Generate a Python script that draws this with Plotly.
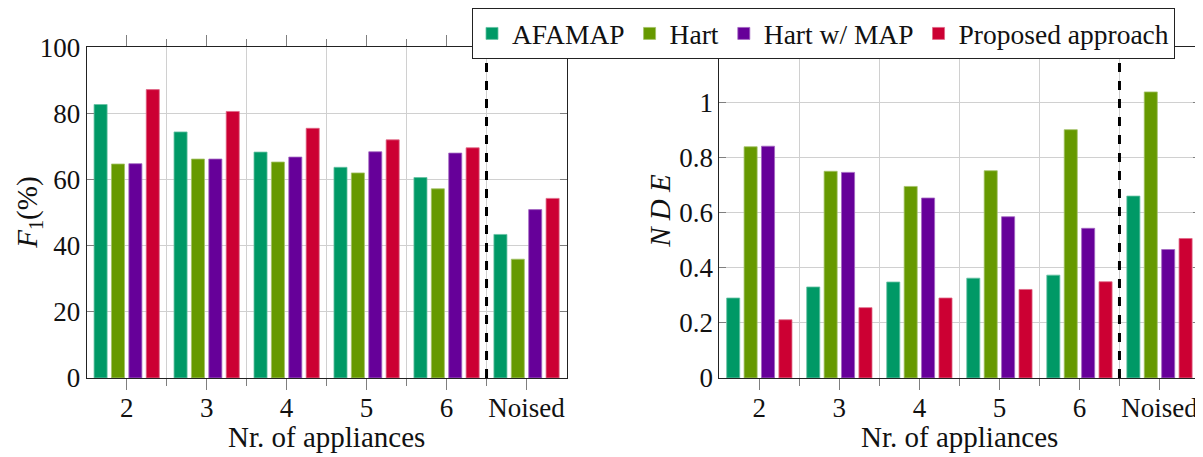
import plotly.graph_objects as go

categories = ["2", "3", "4", "5", "6", "Noised"]
series_names = ["AFAMAP", "Hart", "Hart w/ MAP", "Proposed approach"]
colors = ["#009966", "#669900", "#660099", "#CC0033"]
edge_colors = ["#66c2a3", "#a3c266", "#a366c2", "#e06685"]

f1_afamap = [82.7, 74.4, 68.3, 63.7, 60.6, 43.4]
f1_hart = [64.7, 66.2, 65.3, 62.0, 57.2, 35.9]
f1_hartmap = [64.8, 66.2, 66.8, 68.4, 68.0, 50.9]
f1_proposed = [87.2, 80.6, 75.5, 72.0, 69.6, 54.3]

nde_afamap = [0.290, 0.330, 0.348, 0.362, 0.373, 0.660]
nde_hart = [0.839, 0.750, 0.695, 0.752, 0.901, 1.038]
nde_hartmap = [0.841, 0.746, 0.653, 0.585, 0.543, 0.466]
nde_proposed = [0.211, 0.255, 0.290, 0.321, 0.349, 0.506]

f1_ticks = [0, 20, 40, 60, 80, 100]
nde_ticks = [0, 0.2, 0.4, 0.6, 0.8, 1.0]
nde_ticktext = ["0", "0.2", "0.4", "0.6", "0.8", "1"]

FONT = "Liberation Serif"
FS_TICK = 27
FS_TXT = 29
FS_LEG = 27.5
TXT = "#111111"

# page has an 8px body margin; figure is drawn offset by it
OFF = 8
W, H = 1203 - OFF, 457 - OFF


def px(X):
    return (X - OFF) / W


def py(Y):
    return 1 - (Y - OFF) / H


xpos = list(range(len(categories)))
sep = len(categories) - 1.5
half = [i + 0.5 for i in range(len(categories) - 1)]

fig = go.Figure()
f1_data = [f1_afamap, f1_hart, f1_hartmap, f1_proposed]
nde_data = [nde_afamap, nde_hart, nde_hartmap, nde_proposed]
for i, name in enumerate(series_names):
    fig.add_trace(go.Bar(x=xpos, y=f1_data[i], name=name, marker_color=colors[i],
                         marker_line=dict(color=edge_colors[i], width=0.8),
                         xaxis="x", yaxis="y", legendgroup=name, showlegend=True))
for i, name in enumerate(series_names):
    fig.add_trace(go.Bar(x=xpos, y=nde_data[i], name=name, marker_color=colors[i],
                         marker_line=dict(color=edge_colors[i], width=0.8),
                         xaxis="x2", yaxis="y2", legendgroup=name, showlegend=False))

ydom = [py(377), py(42.7)]
xaxis_common = dict(
    tickvals=xpos, ticktext=categories, range=[-0.5, len(categories) - 0.5],
    showgrid=False, ticks="outside", ticklen=11, tickcolor="#7f7f7f", tickwidth=1,
    minor=dict(tickvals=half, showgrid=True, gridcolor="#d0d0d0", gridwidth=1,
               ticks="outside", ticklen=7, tickcolor="#7f7f7f"),
    showline=True, linecolor="#222222", linewidth=1, mirror="ticks",
    zeroline=False, tickfont=dict(family=FONT, size=FS_TICK, color=TXT),
    ticklabelstandoff=-5,
    automargin=False,
)
yaxis_common = dict(
    showgrid=True, gridcolor="#d0d0d0", gridwidth=1, ticks="inside", ticklen=7,
    tickcolor="#7f7f7f", showline=True, linecolor="#222222", linewidth=1, mirror="ticks",
    zeroline=False, tickfont=dict(family=FONT, size=FS_TICK, color=TXT), automargin=False,
    domain=ydom,
)

fig.update_layout(
    width=W, height=H,
    margin=dict(l=0, r=0, t=0, b=0),
    paper_bgcolor="white", plot_bgcolor="white",
    barmode="group", bargap=0.13, bargroupgap=0.25,
    font=dict(family=FONT, size=FS_TICK, color=TXT),
    xaxis=dict(domain=[px(86.7), px(566.5)], anchor="y", **xaxis_common),
    xaxis2=dict(domain=[px(719.3), px(1199.5)], anchor="y2", **xaxis_common),
    yaxis=dict(range=[0, 100], tickvals=f1_ticks, anchor="x", **yaxis_common),
    yaxis2=dict(range=[0, 1.2], tickvals=nde_ticks, ticktext=nde_ticktext, anchor="x2",
                **yaxis_common),
    legend=dict(orientation="h", x=px(472), y=py(3), xanchor="left", yanchor="top",
                bgcolor="white", bordercolor="#222222", borderwidth=1,
                font=dict(family=FONT, size=FS_LEG, color=TXT), itemwidth=30,
                tracegroupgap=0),
    showlegend=True,
)

# axis titles
for cx in [326.6, 959.4]:
    fig.add_annotation(text="Nr. of appliances", x=px(cx), y=py(437), xref="paper", yref="paper",
                       showarrow=False, xanchor="center", yanchor="middle",
                       font=dict(family=FONT, size=FS_TXT, color=TXT))
fig.add_annotation(text="<i>F</i><sub>1</sub>(%)", x=px(29), y=py(210), xref="paper", yref="paper",
                   showarrow=False, xanchor="center", yanchor="middle", textangle=-90,
                   font=dict(family=FONT, size=FS_TXT, color=TXT))
fig.add_annotation(text="<i>N D E</i>", x=px(660), y=py(208), xref="paper", yref="paper",
                   showarrow=False, xanchor="center", yanchor="middle", textangle=-90,
                   font=dict(family=FONT, size=FS_TXT, color=TXT))

for xr, yr in [("x", "y domain"), ("x2", "y2 domain")]:
    fig.add_shape(type="line", xref=xr, yref=yr,
                  x0=sep, x1=sep, y0=0, y1=1,
                  line=dict(color="black", width=3, dash="dash"))

fig.write_html("out.html")
